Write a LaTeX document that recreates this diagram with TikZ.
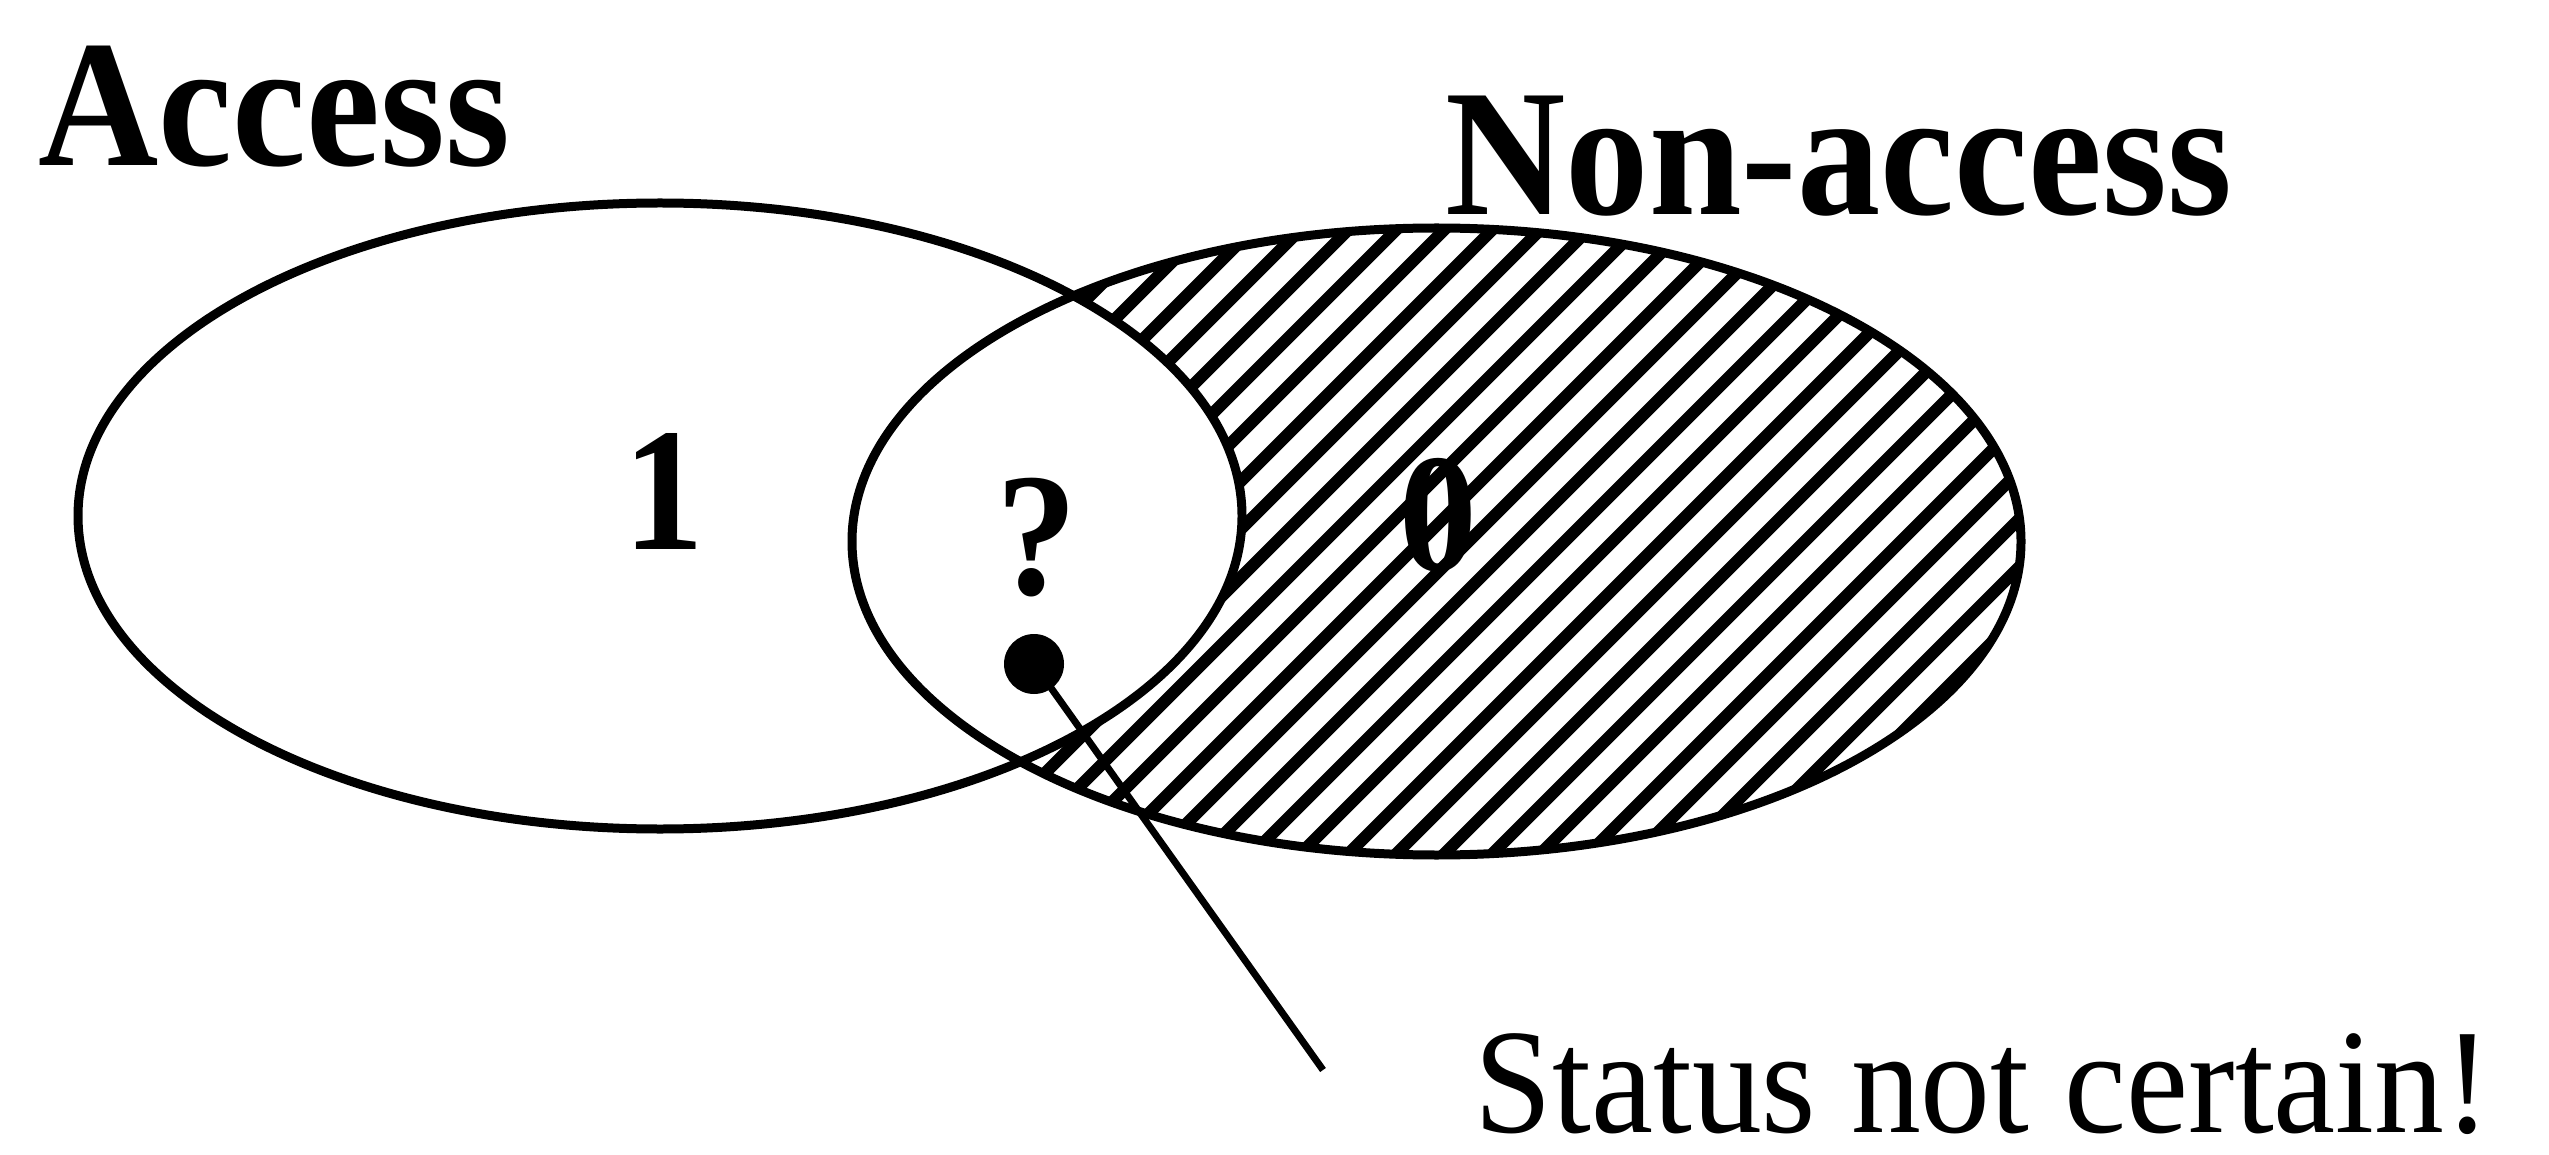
\documentclass[tikz,border=0pt]{standalone}
\usepackage{fontspec}
\setmainfont{Liberation Serif}
\newfontfamily\boldlab{Liberation Serif}[FakeStretch=0.92]
\newfontfamily\notefont{Liberation Serif}[FakeStretch=0.935]
\begin{document}
\begin{tikzpicture}[
  setline/.style={line width=0.09cm},
  hatchline/.style={line width=0.12cm},
  biglabel/.style={inner sep=0pt, font=\boldlab\bfseries\fontsize{51.5}{60}\selectfont},
  marklabel/.style={inner sep=0pt, anchor=base, font=\boldlab\bfseries\fontsize{50}{58}\selectfont},
  notelabel/.style={inner sep=0pt, anchor=base west, font=\notefont\fontsize{42.5}{49}\selectfont},
  connector/.style={line width=0.07cm}
]
\useasboundingbox (0,0) rectangle (25.49,-11.55);
% hatched region: right set minus left set
\begin{scope}
  \clip (14.365,-5.415) ellipse [x radius=5.845, y radius=3.135];
  \begin{scope}[even odd rule]
    \clip (-1,1) rectangle (27,-13)
         (6.60,-5.16) ellipse [x radius=5.82, y radius=3.13];
    \foreach \k in {12.9,13.38,...,26.8}
      \draw[hatchline] ({\k-10},-10) -- ({\k-1},-1);
  \end{scope}
\end{scope}
% outlines
\draw[setline] (6.60,-5.16) ellipse [x radius=5.82, y radius=3.13];
\draw[setline] (14.365,-5.415) ellipse [x radius=5.845, y radius=3.135];
% labels
\node[biglabel, anchor=base west] (access) at (0.38,-1.66) {Access};
\node[biglabel, anchor=base west] (nonaccess) at (14.45,-2.15) {Non-access};
\node[marklabel] (one) at (6.64,-5.50) {1};
\node[marklabel] (query) at (10.37,-5.95) {?};
\node[marklabel, font=\boldlab\bfseries\fontsize{48}{56}\selectfont] (zero) at (14.38,-5.70) {0};
% uncertain element
\node[circle, fill=black, inner sep=0pt, minimum size=0.60cm] (dot) at (10.34,-6.64) {};
\coordinate (tail) at (13.23,-10.70);
\draw[connector] (dot.center) -- (tail);
\node[notelabel] (status) at (14.74,-11.32) {Status not certain!};
\end{tikzpicture}
\end{document}
